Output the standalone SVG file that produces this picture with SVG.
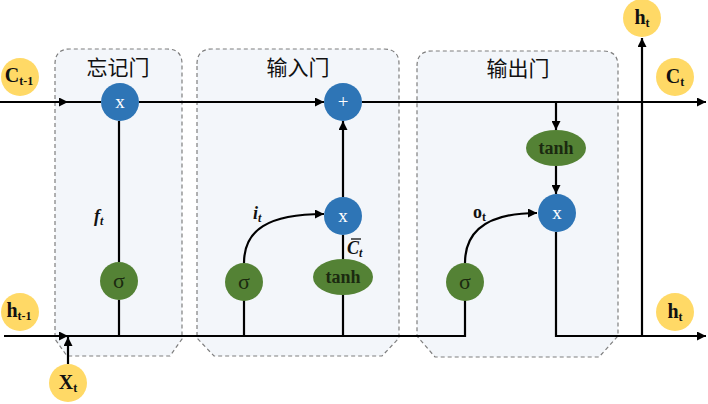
<svg xmlns="http://www.w3.org/2000/svg" width="708" height="404" viewBox="0 0 708 404">
<defs>
<marker id="ah" viewBox="0 0 10 10" refX="10" refY="5" markerWidth="9" markerHeight="9" markerUnits="userSpaceOnUse" orient="auto"><path d="M0,0 L10,5 L0,10 z" fill="#000"/></marker>
<style>
.gate{fill:#f3f6fa;stroke:#7f7f7f;stroke-width:1.2;stroke-dasharray:4 3}
.ln{fill:none;stroke:#000;stroke-width:2.2}
.op{fill:#2e75b6}
.act{fill:#548235}
.io{fill:#ffd966}
.ttl{font-family:"Noto Sans CJK SC","Noto Sans",sans-serif;font-size:21px;fill:#111;text-anchor:middle}
.opt{font-family:"Liberation Serif",serif;font-size:19px;fill:#fff;text-anchor:middle}
.sig{font-family:"Liberation Serif",serif;font-size:22px;fill:#1b2a10;text-anchor:middle}
.actt{font-family:"Liberation Serif",serif;font-size:18px;font-weight:bold;fill:#1b2a10;text-anchor:middle}
.iot{font-family:"Liberation Serif",serif;font-size:20px;font-weight:bold;fill:#111;text-anchor:middle}
.lbl{font-family:"Liberation Serif",serif;font-size:18px;font-weight:bold;fill:#111}
</style>
</defs>
<rect width="708" height="404" fill="#fff"/>
<g id="forget-gate">
<path class="gate" d="M55,64 Q55,49 70,49 L167,49 Q182,49 182,64 L182,339 L170,356 L67,356 L55,339 Z"/>
<text class="ttl" x="118" y="75">忘记门</text>
</g>
<g id="input-gate">
<path class="gate" d="M197,64 Q197,49 212,49 L384,49 Q399,49 399,64 L399,338 L382,356 L214,356 L197,338 Z"/>
<text class="ttl" x="298" y="75">输入门</text>
</g>
<g id="output-gate">
<path class="gate" d="M417,66 Q417,51 432,51 L603,51 Q618,51 618,66 L618,336 L599,357 L435,357 L417,336 Z"/>
<text class="ttl" x="518" y="76">输出门</text>
</g>
<g id="connectors">
<line class="ln" x1="0" y1="102" x2="68" y2="102" marker-end="url(#ah)"/>
<line class="ln" x1="66" y1="102" x2="101" y2="102"/>
<line class="ln" x1="139" y1="102" x2="324" y2="102" marker-end="url(#ah)"/>
<line class="ln" x1="362" y1="102" x2="706" y2="102" marker-end="url(#ah)"/>
<line class="ln" x1="4" y1="336" x2="68" y2="336" marker-end="url(#ah)"/>
<path class="ln" d="M66,336 L465,336 L465,300"/>
<line class="ln" x1="68" y1="364" x2="68" y2="337" marker-end="url(#ah)"/>
<line class="ln" x1="119" y1="336" x2="119" y2="300"/>
<line class="ln" x1="119" y1="262" x2="119" y2="121"/>
<line class="ln" x1="244" y1="336" x2="244" y2="300"/>
<path class="ln" d="M244,263 C244,230 268,214 324,214" marker-end="url(#ah)"/>
<line class="ln" x1="343" y1="336" x2="343" y2="294"/>
<line class="ln" x1="343" y1="259" x2="343" y2="235"/>
<line class="ln" x1="343" y1="197" x2="343" y2="121" marker-end="url(#ah)"/>
<line class="ln" x1="556" y1="102" x2="556" y2="130" marker-end="url(#ah)"/>
<line class="ln" x1="556" y1="166" x2="556" y2="194" marker-end="url(#ah)"/>
<path class="ln" d="M465,263 C465,230 489,213 537,213" marker-end="url(#ah)"/>
<path class="ln" d="M556,232 L556,336 L706,336" marker-end="url(#ah)"/>
<line class="ln" x1="642" y1="336" x2="642" y2="38" marker-end="url(#ah)"/>
</g>
<g id="forget-mult"><circle class="op" cx="120" cy="102" r="19"/><text class="opt" x="120" y="108">x</text></g>
<g id="forget-sigma"><circle class="act" cx="119" cy="281" r="19"/><text class="sig" x="119" y="288">σ</text></g>
<g id="input-sigma"><circle class="act" cx="244" cy="282" r="19"/><text class="sig" x="244" y="289">σ</text></g>
<g id="input-mult"><circle class="op" cx="343" cy="216" r="19"/><text class="opt" x="343" y="222">x</text></g>
<g id="input-tanh"><ellipse class="act" cx="343" cy="277" rx="30" ry="18"/><text class="actt" x="343" y="283">tanh</text></g>
<g id="add"><circle class="op" cx="343" cy="102" r="19"/><text class="opt" x="343" y="108">+</text></g>
<g id="output-tanh"><ellipse class="act" cx="556" cy="148" rx="30" ry="18"/><text class="actt" x="556" y="154">tanh</text></g>
<g id="output-mult"><circle class="op" cx="557" cy="213" r="19"/><text class="opt" x="557" y="219">x</text></g>
<g id="output-sigma"><circle class="act" cx="465" cy="282" r="19"/><text class="sig" x="465" y="289">σ</text></g>
<g id="labels">
<text class="lbl" x="94" y="222" font-style="italic">f<tspan font-size="12" dy="3">t</tspan></text>
<text class="lbl" x="253" y="219" font-style="italic">i<tspan font-size="12" dy="3">t</tspan></text>
<text class="lbl" x="347" y="254" font-style="italic">C<tspan font-size="12" dy="3">t</tspan></text>
<line x1="351" y1="239" x2="361" y2="239" stroke="#111" stroke-width="1.3"/>
<text class="lbl" x="473" y="218">o<tspan font-size="12" dy="3">t</tspan></text>
</g>
<g id="c-prev"><circle class="io" cx="20" cy="77" r="19"/><text class="iot" x="19" y="82">C<tspan font-size="12" dy="3">t-1</tspan></text></g>
<g id="h-prev"><circle class="io" cx="20" cy="312" r="19"/><text class="iot" x="19" y="317">h<tspan font-size="12" dy="3">t-1</tspan></text></g>
<g id="x-t"><circle class="io" cx="68" cy="383" r="19"/><text class="iot" x="68" y="389">X<tspan font-size="12" dy="3">t</tspan></text></g>
<g id="h-t-top"><circle class="io" cx="642" cy="18" r="19"/><text class="iot" x="642" y="24">h<tspan font-size="12" dy="3">t</tspan></text></g>
<g id="c-t"><circle class="io" cx="675" cy="77" r="19"/><text class="iot" x="675" y="83">C<tspan font-size="12" dy="3">t</tspan></text></g>
<g id="h-t"><circle class="io" cx="675" cy="312" r="19"/><text class="iot" x="675" y="318">h<tspan font-size="12" dy="3">t</tspan></text></g>
</svg>
